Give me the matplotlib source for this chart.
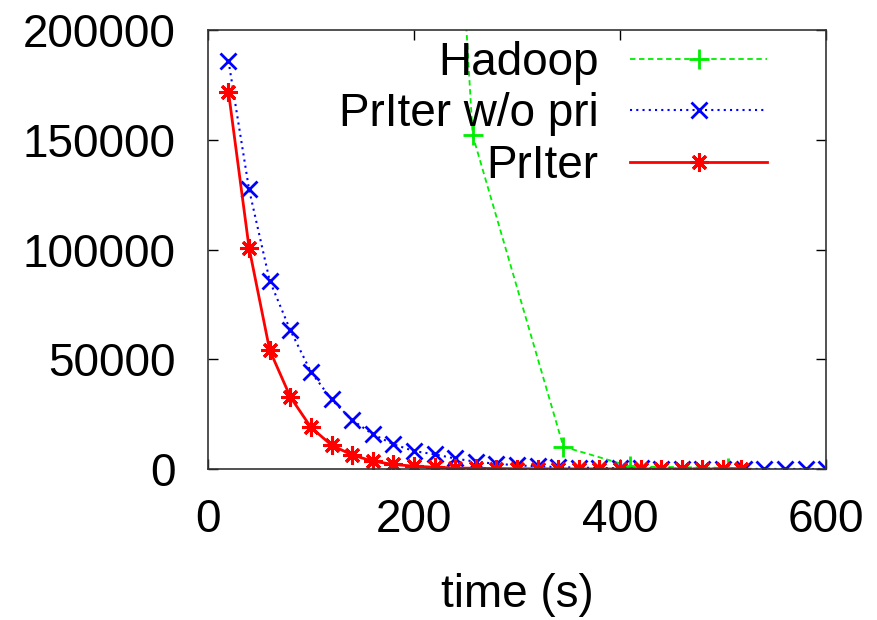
import matplotlib
matplotlib.use("Agg")
import matplotlib.pyplot as plt

plt.rcParams['font.family'] = ['Liberation Sans', 'DejaVu Sans']

# Hadoop (first point lies above the plotted range)
hadoop_t = [170, 257, 345, 410, 505]
hadoop_v = [846600, 152100, 10200, 1200, 500]

# PrIter w/o pri
nopri_t = [20, 40, 60, 80, 100, 120, 140, 160, 180, 200, 220, 240, 260, 280, 300,
           320, 340, 360, 380, 400, 420, 440, 460, 480, 500, 520, 540, 560, 580, 600]
nopri_v = [186000, 127400, 85800, 63300, 44300, 31700, 22300, 15900, 11300, 8200,
           6700, 4800, 3300, 2400, 1700, 1200, 900, 650, 480, 350, 260, 190, 140,
           100, 80, 60, 45, 35, 25, 20]

# PrIter
priter_t = [20, 40, 60, 80, 100, 120, 140, 160, 180, 200, 220, 240, 260, 280, 300,
            320, 340, 360, 380, 400, 420, 440, 460, 480, 500, 517]
priter_v = [171900, 100800, 54200, 32900, 19000, 10900, 6400, 3600, 2100, 1300,
            800, 500, 300, 200, 130, 90, 60, 40, 30, 20, 15, 10, 8, 6, 5, 4]

FS = 33

fig = plt.figure(figsize=(8.77, 6.2), dpi=100)
ax = fig.add_axes([0.237, 0.2435, 0.705, 0.708])

ax.plot(hadoop_t, hadoop_v, color='#00ee00', linestyle=(0, (3, 2)), linewidth=1.3,
        marker='+', markersize=14, markeredgewidth=2.0, label='Hadoop')
ax.plot(nopri_t, nopri_v, color='#0000ff', linestyle=(0, (1, 2)), linewidth=1.5,
        marker='x', markersize=12, markeredgewidth=2.0, label='PrIter w/o pri')
ax.plot(priter_t, priter_v, color='#ff0000', linestyle='-', linewidth=2.0,
        marker=(8, 2, 0), markersize=13, markeredgewidth=2.2, label='PrIter')

ax.set_xlim(0, 600)
ax.set_ylim(0, 200000)
ax.set_xticks([0, 200, 400, 600])
ax.set_yticks([0, 50000, 100000, 150000, 200000])
ax.tick_params(direction='in', length=7, width=1, top=True, right=True,
               labelsize=FS)
ax.tick_params(axis='x', pad=21)
ax.tick_params(axis='y', pad=23)
for s in ax.spines.values():
    s.set_linewidth(1.2)
    s.set_color('#333333')
ax.set_xlabel('time (s)', fontsize=FS, labelpad=22)

leg = ax.legend(loc='upper right', bbox_to_anchor=(0.905, 0.975), frameon=False,
                markerfirst=False, fontsize=FS, handlelength=3.0, handletextpad=0.68,
                labelspacing=0.16, borderpad=0, borderaxespad=0)

fig.savefig('out.png', dpi=100)
